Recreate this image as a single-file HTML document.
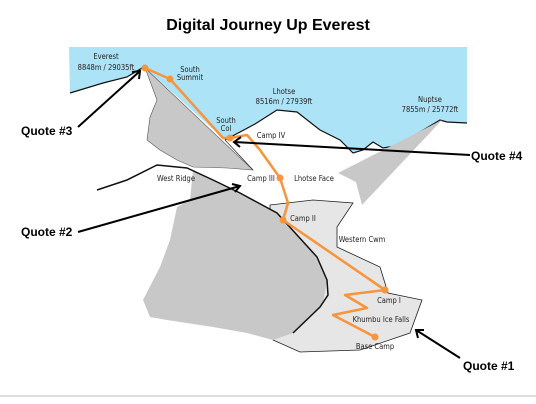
<!DOCTYPE html>
<html><head><meta charset="utf-8"><style>
html,body{margin:0;padding:0;background:#fff;width:536px;height:404px;overflow:hidden}
svg{display:block}
.lbl{font-family:"DejaVu Sans Condensed","Liberation Sans",sans-serif;font-size:7.5px;fill:#222;text-anchor:middle}
.q{font-family:"Liberation Sans",sans-serif;font-weight:bold;font-size:12px;fill:#000}
</style></head><body>
<svg width="536" height="404" viewBox="0 0 536 404">
<text x="268" y="30" text-anchor="middle" font-family="Liberation Sans,sans-serif" font-weight="bold" font-size="16">Digital Journey Up Everest</text>
<path fill="#ade3f6" d="M69,47 L467,47 L467,123 L447,122 L440,120 L420,132 L395,146 L383,148 L373,142 L363,150 L353,153 L340,140 L320,130 L297,112 L277,110 L255,124 L225,140 L145,68 L127,77 L103,83 L70,93 Z"/>
<path fill="none" stroke="#111" stroke-width="1.2" d="M70,93 L103,83 L127,77 L142,68 M225,140 L255,124 L277,110 L297,112 L320,130 L340,140 L353,153 L363,150 L373,142 L383,148 L395,146 L420,132 L440,120 L447,122 L467,123"/>
<path fill="#c8c8c8" stroke="#555" stroke-width="0.6" d="M145,68 L253,170 L227,168 L193,167 L177,160 L160,150 L147,140 L150,117 L157,100 L147,73 Z"/>
<path fill="#c8c8c8" d="M338,173 L442,120 L362,205 L356,182 Z"/>
<path fill="#e6e6e6" stroke="#222" stroke-width="0.8" d="M270,205 L313,200 L353,203 L337,227 L337,247 L380,267 L388,293 L422,300 L410,333 L360,350 L300,352 L273,340 L270,213 Z"/>
<path fill="#c8c8c8" d="M193,170 L213,180 L240,193 L277,213 L317,257 L327,280 L323,303 L293,333 L273,340 L247,333 L213,327 L167,320 L150,317 L143,300 L160,267 L170,240 L177,207 L190,200 Z"/>
<path fill="none" stroke="#111" stroke-width="1.5" d="M97,190 L127,180 L157,165 L187,168 L213,180 L240,193 L277,213 L317,257 L327,280 L328,295 L320,307 L293,333"/>
<path fill="none" stroke="#333" stroke-width="0.8" d="M225,140 L253,170"/>
<script>
const campNames=["Everest","South Summit","South Col","Camp III","Camp II","Camp I","Base Camp"];
</script>
<path fill="none" stroke="#f7943c" stroke-width="2.5" stroke-linejoin="round" d="M145,68 L170,79 L223,138 L230,138 L247,135 L260,150 L280,178 L288,203 L283,220 L385,290 L345,295 L367,308 L333,315 L375,337"/>
<g fill="#f7943c">
<circle cx="145" cy="68" r="3.5"/>
<circle cx="170" cy="79" r="3.5"/>
<circle cx="230" cy="138" r="3.5"/>
<circle cx="280" cy="178" r="3.5"/>
<circle cx="283" cy="220" r="3.5"/>
<circle cx="385" cy="290" r="3.5"/>
<circle cx="375" cy="337" r="3.5"/>
</g>
<g>
<text class="lbl" x="106" y="59">Everest</text>
<text class="lbl" x="106" y="70">8848m / 29035ft</text>
<text class="lbl" x="190" y="72">South</text>
<text class="lbl" x="190" y="80">Summit</text>
<text class="lbl" x="284" y="94">Lhotse</text>
<text class="lbl" x="284" y="104">8516m / 27939ft</text>
<text class="lbl" x="430" y="102">Nuptse</text>
<text class="lbl" x="430" y="112">7855m / 25772ft</text>
<text class="lbl" x="226" y="123">South</text>
<text class="lbl" x="226" y="131">Col</text>
<text class="lbl" x="271" y="138">Camp IV</text>
<text class="lbl" x="314" y="181">Lhotse Face</text>
<text class="lbl" x="261" y="181">Camp III</text>
<text class="lbl" x="176" y="181">West Ridge</text>
<text class="lbl" x="303" y="221">Camp II</text>
<text class="lbl" x="362" y="242">Western Cwm</text>
<text class="lbl" x="389" y="303">Camp I</text>
<text class="lbl" x="381" y="322">Khumbu Ice Falls</text>
<text class="lbl" x="375" y="349">Base Camp</text>
</g>
<g stroke="#000" stroke-width="2" fill="none">
<path d="M78,127 L140,71 M132,72 L140,71 L139,79"/>
<path d="M78,232 L240,186 M232,184 L240,186 L235,192"/>
<path d="M470,155 L234,142 M241,137 L234,142 L240,147"/>
<path d="M460,358 L416,330 M418,338 L416,330 L424,330"/>
</g>
<text class="q" x="21" y="135">Quote #3</text>
<text class="q" x="21" y="236">Quote #2</text>
<text class="q" x="471" y="160">Quote #4</text>
<text class="q" x="463" y="370">Quote #1</text>
<line x1="0" y1="396" x2="536" y2="396" stroke="#bbb" stroke-width="1"/>
</svg>
</body></html>
